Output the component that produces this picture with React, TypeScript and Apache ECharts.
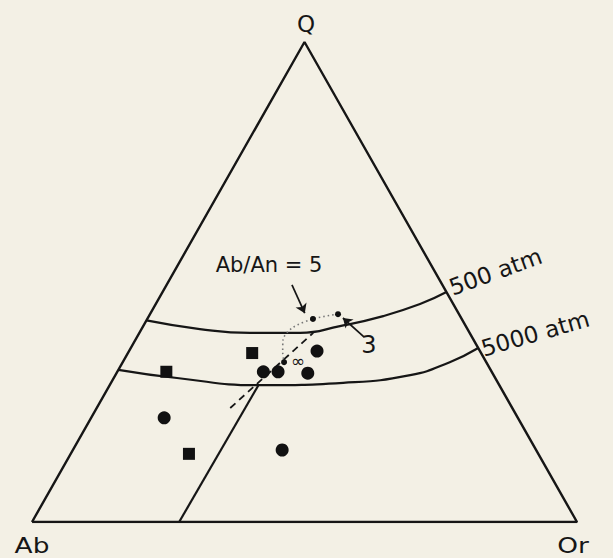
import React, { useEffect, useRef } from "react";
import * as echarts from "echarts";

// Compositions in percent, ordered [Q, Ab, Or].
const apexQ = [100, 0, 0];
const apexAb = [0, 100, 0];
const apexOr = [0, 0, 100];

const circleSamples = [
  [35.6, 29.9, 34.5],
  [31.3, 41.9, 26.8],
  [31.3, 39.2, 29.5],
  [31.0, 33.9, 35.1],
  [21.7, 64.9, 13.4],
  [15.0, 46.6, 38.4],
];

const squareSamples = [
  [35.2, 42.0, 22.8],
  [31.3, 59.7, 9.0],
  [14.2, 64.1, 21.7],
];

// Ternary minima for the Ab/An ratios 5, 3 and infinity
const minimaLabels = ["5", "3", "∞"];
const minima = [
  [42.3, 27.3, 30.4],
  [43.3, 22.2, 34.5],
  [33.3, 37.1, 29.6],
];

const isobar500 = [
  [42.0, 58.0, 0],
  [40.2, 49.1, 10.7],
  [39.4, 40.3, 20.3],
  [39.4, 31.1, 29.5],
  [40.8, 23.1, 36.1],
  [42.9, 14.1, 43.0],
  [45.4, 6.1, 48.5],
  [47.9, 0, 52.1],
];

const isobar5000 = [
  [31.7, 68.3, 0],
  [30.0, 58.4, 11.6],
  [28.5, 43.9, 27.6],
  [29.0, 28.4, 42.6],
  [30.6, 15.3, 54.1],
  [33.3, 6.7, 60.0],
  [36.25, 0, 63.75],
];

const fieldBoundary = [
  [0, 73.0, 27.0],
  [28.7, 44.0, 27.3],
];

const minimumTrend = [
  [23.75, 51.75, 24.5],
  [39.4, 28.7, 31.9],
];

const minimaPath = [
  [43.3, 22.2, 34.5],
  [42.3, 27.3, 30.4],
  [40.4, 32.1, 27.5],
  [37.9, 35.0, 27.1],
  [35.4, 36.3, 28.3],
  [33.3, 37.1, 29.6],
];

const pointerArrows = [
  [[49.4, 27.6, 23.0], [43.5, 28.2, 28.3]],
  [[38.5, 19.8, 41.7], [42.5, 21.7, 35.8]],
];

// Q at the top, Ab bottom-left, Or bottom-right
const toXY = (c: number[]) => [(c[2] + c[0] / 2) / 100, c[0] / 100];

const INK = "#161616";
const FONT = "'DejaVu Sans', sans-serif";

function label(text: string, x: number, y: number, size: number, extra: any = {}) {
  return {
    type: "text",
    x,
    y,
    rotation: extra.rotation || 0,
    scaleX: extra.scaleX || 1,
    style: {
      text,
      fill: INK,
      fontSize: size,
      fontFamily: FONT,
      align: extra.align || "center",
      textAlign: extra.align || "center",
      verticalAlign: extra.valign || "middle",
      textVerticalAlign: extra.valign || "middle",
    },
    z: 100,
  };
}

export default function App() {
  const ref = useRef<HTMLDivElement>(null);

  useEffect(() => {
    if (!ref.current) return;
    const chart = echarts.init(ref.current, undefined, { renderer: "svg" });

    const lineSeries = (data: number[][], style: any, smooth: boolean | number = false) => ({
      type: "line",
      data: data.map(toXY),
      smooth,
      symbol: "none",
      lineStyle: { color: INK, width: 2.2, opacity: 1, ...style },
      silent: true,
      z: 2,
    });

    const markerStyle = { color: "#111", opacity: 1 };

    chart.setOption({
      animation: false,
      backgroundColor: "#f3f0e5",
      grid: { left: 32, top: 42, width: 545, height: 480 },
      xAxis: { type: "value", min: 0, max: 1, show: false },
      yAxis: { type: "value", min: 0, max: 1, show: false },
      series: [
        lineSeries([apexAb, apexOr, apexQ, apexAb], { width: 2.4 }),
        lineSeries(isobar500, {}, true),
        lineSeries(isobar5000, {}, true),
        lineSeries(fieldBoundary, {}),
        lineSeries(minimumTrend, { width: 1.8, type: [7, 5] }),
        lineSeries(minimaPath, { width: 1.6, type: [1.5, 3], color: "#777" }, 0.3),
        {
          type: "lines",
          coordinateSystem: "cartesian2d",
          symbol: ["none", "arrow"],
          symbolSize: 9,
          lineStyle: { color: INK, width: 1.7, opacity: 1 },
          data: pointerArrows.map((a) => ({ coords: a.map(toXY) })),
          z: 3,
        },
        {
          type: "scatter",
          data: circleSamples.map(toXY),
          symbol: "circle",
          symbolSize: 13,
          itemStyle: markerStyle,
          z: 5,
        },
        {
          type: "scatter",
          data: squareSamples.map(toXY),
          symbol: "rect",
          symbolSize: 12,
          itemStyle: markerStyle,
          z: 5,
        },
        {
          type: "scatter",
          data: minima.map((m, i) => ({ value: toXY(m), name: minimaLabels[i] })),
          symbol: "circle",
          symbolSize: 6,
          itemStyle: markerStyle,
          z: 6,
        },
      ],
      graphic: [
        label("Q", 306, 24, 23),
        label("Ab", 32, 545, 22, { scaleX: 1.2 }),
        label("Or", 573, 545, 22, { scaleX: 1.2 }),
        label("Ab/An = 5", 269, 265, 21),
        label("3", 369, 345, 24),
        label("∞", 298, 361, 17),
        label("500 atm", 454, 299, 23, {
          align: "left",
          valign: "bottom",
          rotation: (20 * Math.PI) / 180,
        }),
        label("5000 atm", 485, 360, 23, {
          align: "left",
          valign: "bottom",
          rotation: (16 * Math.PI) / 180,
        }),
      ],
    });

    return () => chart.dispose();
  }, []);

  return (
    <div
      ref={ref}
      style={{ position: "fixed", left: 0, top: 0, width: 613, height: 558 }}
    />
  );
}
